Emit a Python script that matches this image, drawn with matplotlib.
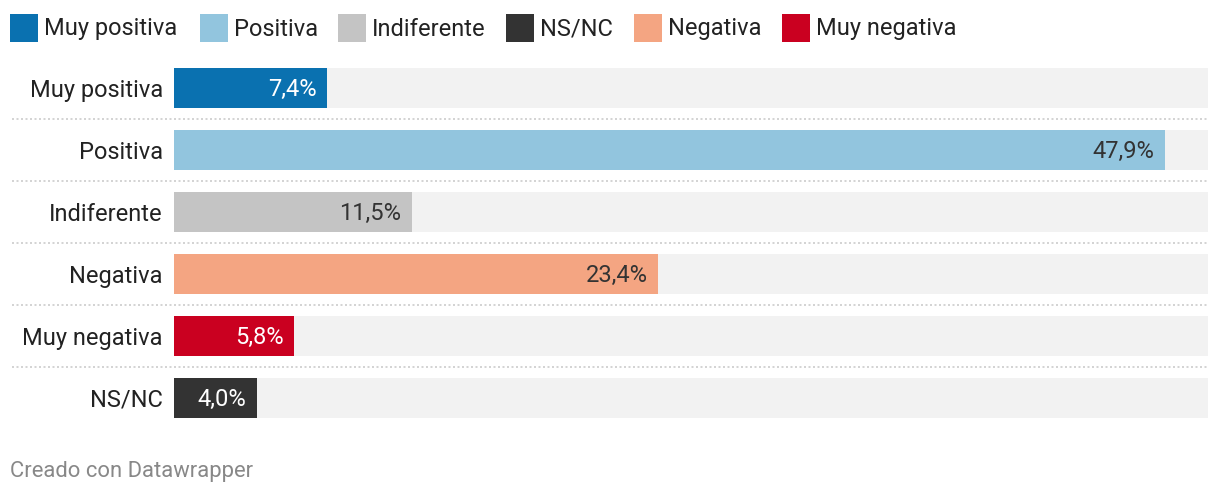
import matplotlib
matplotlib.use("Agg")
import matplotlib.pyplot as plt
from matplotlib.patches import Rectangle
import matplotlib.transforms as mtransforms

plt.rcParams['font.family'] = ['Roboto', 'DejaVu Sans']

categories = ["Muy positiva", "Positiva", "Indiferente", "Negativa", "Muy negativa", "NS/NC"]
values = [7.4, 47.9, 11.5, 23.4, 5.8, 4.0]
colors = ["#0a71b0", "#92c5de", "#c4c4c4", "#f4a582", "#ca0020", "#333333"]
text_colors = ["white", "#333333", "#333333", "#333333", "white", "white"]

legend_labels = ["Muy positiva", "Positiva", "Indiferente", "NS/NC", "Negativa", "Muy negativa"]
legend_colors = ["#0a71b0", "#92c5de", "#c4c4c4", "#333333", "#f4a582", "#ca0020"]
legend_x = [10, 200, 338, 506, 634, 782]

W, H = 1220, 496
fig = plt.figure(figsize=(W / 100, H / 100), dpi=100)

ax_left, ax_right = 174, 1208
ax_top, ax_bottom = 57, 429
ax = fig.add_axes([ax_left / W, 1 - ax_bottom / H, (ax_right - ax_left) / W, (ax_bottom - ax_top) / H])

n = len(categories)
ypos = list(range(n))
bar_h = 40 / 62
ax.barh(ypos, [50] * n, height=bar_h, color="#f2f2f2", zorder=1)
ax.barh(ypos, values, height=bar_h, color=colors, zorder=2)
ax.set_xlim(0, 50)
ax.set_ylim(n - 0.5, -0.5)

for y, v, tc in zip(ypos, values, text_colors):
    ax.annotate(f"{v:.1f}%".replace(".", ","), xy=(v, y), xytext=(-7.5, 0.7),
                textcoords="offset points", ha="right", va="center_baseline",
                color=tc, fontsize=17, zorder=3)

ax.set_yticks(ypos)
ax.set_yticklabels(categories, fontsize=17, color="#222222")
ax.tick_params(axis="y", length=0, pad=8)
ax.tick_params(axis="x", length=0, labelbottom=False)
for s in ax.spines.values():
    s.set_visible(False)

trans = mtransforms.blended_transform_factory(ax.transAxes, ax.transData)
x0 = (12 - ax_left) / (ax_right - ax_left)
for i in range(n - 1):
    ax.plot([x0, 1], [i + 0.5, i + 0.5], transform=trans, clip_on=False,
            color="#cccccc", linestyle=(0, (1.2, 1.5)), linewidth=1.2, zorder=0)

# Legend
for lx, lab, col in zip(legend_x, legend_labels, legend_colors):
    fig.add_artist(Rectangle((lx / W, 1 - 42 / H), 28 / W, 28 / H, transform=fig.transFigure,
                             color=col, linewidth=0))
    fig.text((lx + 34) / W, 1 - 26.5 / H, lab, fontsize=17, color="#222222",
             ha="left", va="center_baseline")

fig.text(10 / W, 1 - 469 / H, "Creado con Datawrapper", fontsize=15.8, color="#888888",
         ha="left", va="center_baseline")

fig.savefig("out.png", dpi=100)
